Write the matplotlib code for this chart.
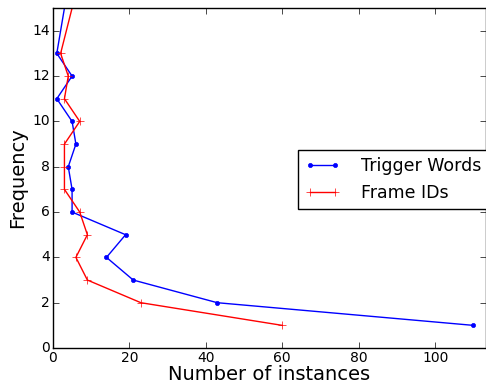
import matplotlib
matplotlib.use('Agg')
import matplotlib.pyplot as plt

plt.style.use('classic')

freq = [1, 2, 3, 4, 5, 6, 7, 8, 9, 10, 11, 12, 13, 16]
trigger_words = [110, 43, 21, 14, 19, 5, 5, 4, 6, 5, 1, 5, 1, 4]

frame_freq = [1, 2, 3, 4, 5, 6, 7, 8, 9, 10, 11, 12, 13, 17]
frame_ids = [60, 23, 9, 6, 9, 7, 3, 3, 3, 7, 3, 4, 2, 8]

fig = plt.figure(figsize=(4.86, 3.85), dpi=100, facecolor='white')
ax = fig.add_axes([0.109, 0.096, 0.891, 0.883])

ax.plot(trigger_words, freq, 'b.-', label='Trigger Words')
ax.plot(frame_ids, frame_freq, 'r+-', label='Frame IDs')

ax.set_xlim(0, 113.3)
ax.set_ylim(0, 15)
ax.set_xticks([0, 20, 40, 60, 80, 100])
ax.set_yticks(range(0, 15, 2))
ax.tick_params(labelsize=10, pad=2)

ax.set_xlabel('Number of instances', fontsize=14, labelpad=0)
ax.set_ylabel('Frequency', fontsize=14, labelpad=4)

ax.legend(loc='upper left', bbox_to_anchor=(0.566, 0.582), borderaxespad=0,
          fontsize=12.5, numpoints=2, handletextpad=1.2)

plt.savefig('out.png', facecolor='white')
